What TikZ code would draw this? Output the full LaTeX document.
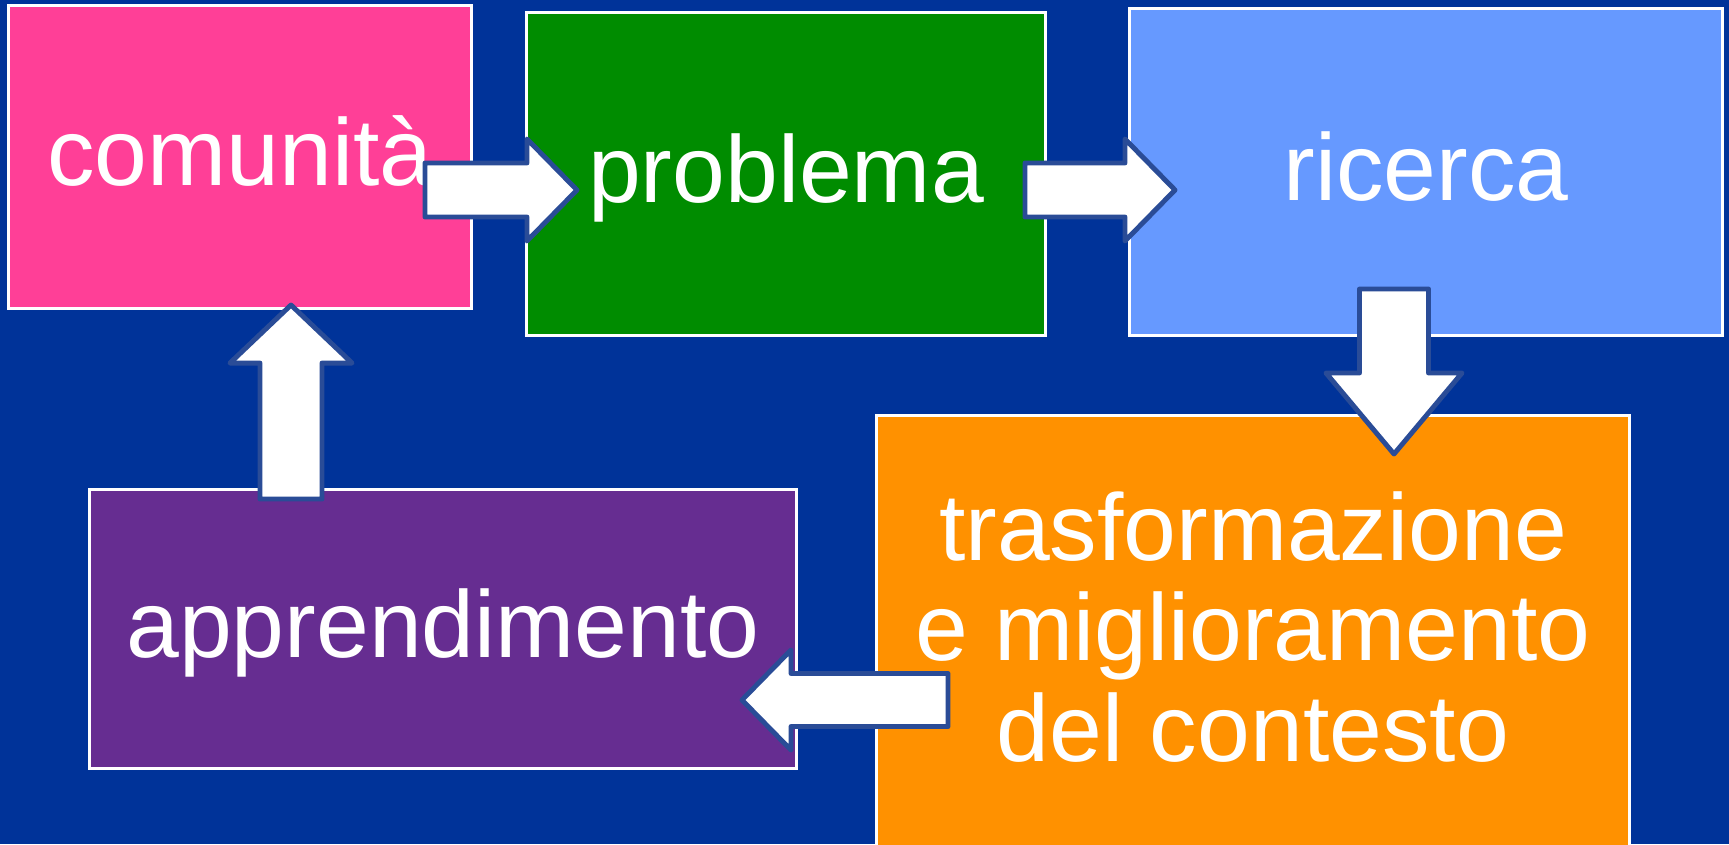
\documentclass[tikz,border=0pt]{standalone}
\usepackage{fontspec}
\setmainfont{Liberation Sans}
\usetikzlibrary{calc}
\definecolor{bgblue}{HTML}{003399}
\definecolor{pinkbox}{HTML}{FF3F97}
\definecolor{greenbox}{HTML}{008C00}
\definecolor{bluebox}{HTML}{6699FF}
\definecolor{orangebox}{HTML}{FF9100}
\definecolor{purplebox}{HTML}{662D91}
\definecolor{arrline}{HTML}{2A4C97}

\begin{document}
\begin{tikzpicture}[x=0.01cm, y=-0.01cm, font=\fontsize{27}{28.5}\selectfont,
	box/.style={draw=white, line width=0.9pt, text=white, inner sep=0pt, align=center,
	  text height=21.6pt, text depth=5.4pt},
	barrow/.style n args={3}{fill=white, draw=arrline, line width=1.4pt, line join=round,
	  to path={let \p1=($(\tikztotarget)!#3!(\tikztostart)$) in
	    ($(\tikztostart)!#1!90:(\tikztotarget)$) -- ($(\p1)!#1!90:(\tikztotarget)$)
	    -- ($(\p1)!#2!90:(\tikztotarget)$) -- (\tikztotarget)
	    -- ($(\p1)!#2!-90:(\tikztotarget)$) -- ($(\p1)!#1!-90:(\tikztotarget)$)
	    -- ($(\tikztostart)!#1!-90:(\tikztotarget)$) -- cycle}}]
	\useasboundingbox (0,0) rectangle (1729,844);
	\clip (0,0) rectangle (1729,844);
	\fill[bgblue] (0,0) rectangle (1729,844);
	\node[box, fill=pinkbox, minimum width=4.63cm, minimum height=3.03cm] (com) at (240,157) {comunità};
	\node[box, fill=greenbox, minimum width=5.18cm, minimum height=3.23cm] (prob) at (786,174) {problema};
	\node[box, fill=bluebox, minimum width=5.92cm, minimum height=3.27cm] (ric) at (1426,172) {ricerca};
	\node[box, fill=orangebox, minimum width=7.53cm, minimum height=4.84cm] (tras) at (1253,658) {};
	\node[text=white, align=center, inner sep=0pt] (trastext) at (1253,627) {trasformazione\\e miglioramento\\del contesto};
	\node[box, fill=purplebox, minimum width=7.06cm, minimum height=2.79cm] (app) at (443,629) {apprendimento};
	\coordinate (com-out) at (425,190);
	\coordinate (prob-in) at (577,190);
	\coordinate (prob-out) at (1025,190);
	\coordinate (ric-in) at (1175,190);
	\coordinate (ric-out) at (1394,289);
	\coordinate (tras-in) at (1394,454);
	\coordinate (tras-out) at (948,700);
	\coordinate (app-in) at (742,700);
	\coordinate (app-out) at (291,499);
	\coordinate (com-in) at (291,305);
	\draw[barrow={0.27cm}{0.51cm}{0.5cm}] (com-out) to (prob-in);
	\draw[barrow={0.27cm}{0.51cm}{0.5cm}] (prob-out) to (ric-in);
	\draw[barrow={0.345cm}{0.68cm}{0.81cm}] (ric-out) to (tras-in);
	\draw[barrow={0.265cm}{0.5cm}{0.49cm}] (tras-out) to (app-in);
	\draw[barrow={0.31cm}{0.61cm}{0.58cm}] (app-out) to (com-in);
\end{tikzpicture}
\end{document}
